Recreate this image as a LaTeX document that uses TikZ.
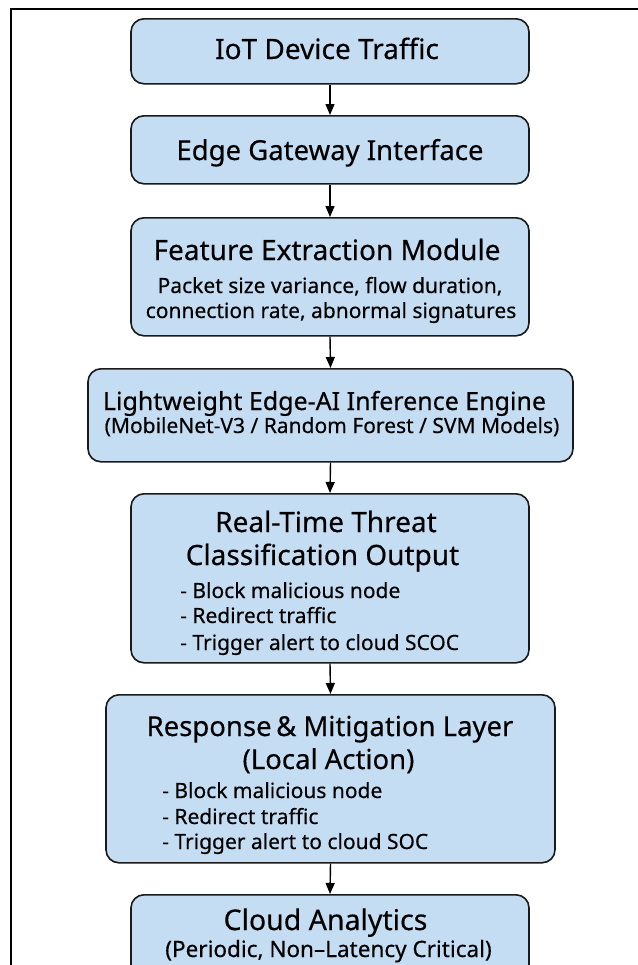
\documentclass[tikz,border=0pt]{standalone}
\usepackage{fontspec}
\setmainfont{Noto Sans}[FakeBold=0.35]
\usetikzlibrary{arrows.meta}
\definecolor{boxfill}{HTML}{C5DDF3}
\definecolor{boxline}{HTML}{1A1A1A}
\tikzset{
  procbox/.style={draw=boxline, line width=1.6bp, fill=boxfill, rounded corners=13bp,
    inner sep=0pt, anchor=north, shape=rectangle},
  lbl/.style={anchor=base, inner sep=0pt, text=black, font=\fontsize{#1bp}{#1bp}\selectfont},
  item/.style={anchor=base west, inner sep=0pt, text=black, font=\fontsize{#1bp}{#1bp}\selectfont},
  flow/.style={draw=black, line width=1.4bp, -{Triangle[length=11bp,width=9bp]}},
  frame/.style={draw=black, line width=2.2bp}
}
\begin{document}
\begin{tikzpicture}[x=1bp,y=-1bp]
\useasboundingbox (0,0) rectangle (638,965);
\clip (0,0) rectangle (638,965);
\fill[white] (0,0) rectangle (638,965);
\draw[frame] (650,9) -- (11,9) -- (11,980);

% boxes
\node[procbox, minimum width=398bp, minimum height=65bp] (b1) at (330,18) {};
\node[procbox, minimum width=398bp, minimum height=68bp] (b2) at (330,115) {};
\node[procbox, minimum width=398bp, minimum height=118bp] (b3) at (330,217) {};
\node[procbox, minimum width=485bp, minimum height=93bp] (b4) at (330.5,368) {};
\node[procbox, minimum width=398bp, minimum height=169bp] (b5) at (330,493) {};
\node[procbox, minimum width=449bp, minimum height=168bp] (b6) at (330.5,694) {};
\node[procbox, minimum width=398bp, minimum height=120bp] (b7) at (330,894) {};

% connectors
\draw[flow] (b1.south) -- (b2.north);
\draw[flow] (b2.south) -- (b3.north);
\draw[flow] (b3.south) -- (b4.north);
\draw[flow] (b4.south) -- (b5.north);
\draw[flow] (b5.south) -- (b6.north);
\draw[flow] (b6.south) -- (b7.north);

% texts
\node[lbl=28] (t1) at (327,59) {IoT Device Traffic};
\node[lbl=27.5] (t2) at (330,160) {Edge Gateway Interface};

\node[lbl=28] (t3a) at (327,260) {Feature Extraction Module};
\node[lbl=21] (t3b) at (330,293) {Packet size variance, flow duration,};
\node[lbl=21] (t3c) at (331,318) {connection rate, abnormal signatures};

\node[lbl=25] (t4a) at (324.5,410) {Lightweight Edge-AI Inference Engine};
\node[lbl=21] (t4b) at (332,433) {(MobileNet-V3 / Random Forest / SVM Models)};

\node[lbl=28] (t5a) at (326,532) {Real-Time Threat};
\node[lbl=28] (t5b) at (322.5,565) {Classification Output};
\node[item=21] (t5c) at (180,598) {- Block malicious node};
\node[item=21] (t5d) at (180,623) {- Redirect traffic};
\node[item=21] (t5e) at (180,650) {- Trigger alert to cloud SCOC};

\node[lbl=27.5] (t6a) at (330,736) {Response\,\&\ Mitigation Layer};
\node[lbl=27.5] (t6b) at (328.5,769) {(Local Action)};
\node[item=21] (t6c) at (162,798) {- Block malicious node};
\node[item=21] (t6d) at (162,824) {- Redirect traffic};
\node[item=21] (t6e) at (162,849) {- Trigger alert to cloud SOC};

\node[lbl=28.5] (t7a) at (325.5,930) {Cloud Analytics};
\node[lbl=22.5] (t7b) at (328.5,957) {(Periodic, Non–Latency Critical)};
\end{tikzpicture}
\end{document}
